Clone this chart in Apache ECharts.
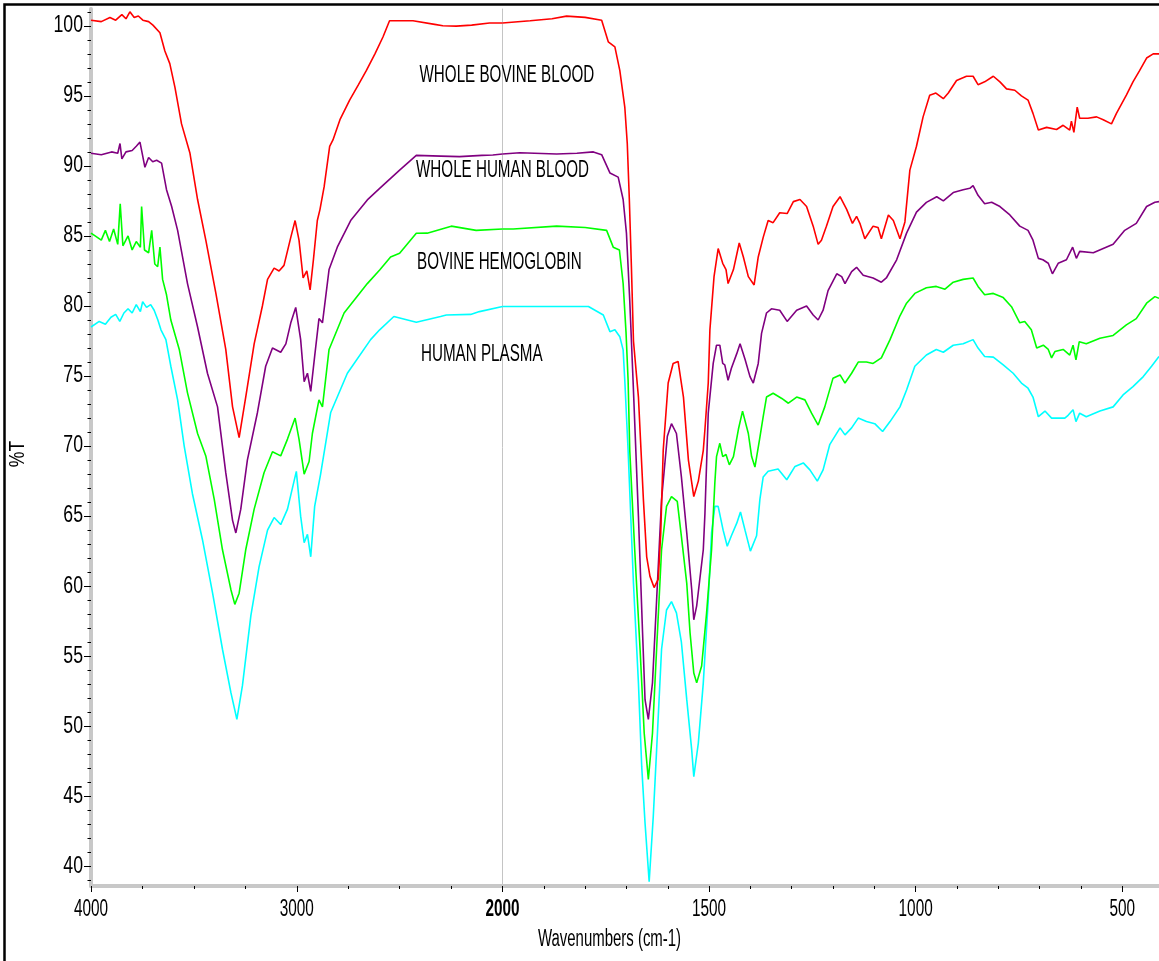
<!DOCTYPE html>
<html>
<head>
<meta charset="utf-8">
<title>FTIR spectra</title>
<script src="https://cdn.jsdelivr.net/npm/echarts@6/dist/echarts.min.js"></script>
<style>
  html, body { margin: 0; padding: 0; background: #fff; }
  #ftir { width: 1159px; height: 961px; }
</style>
</head>
<body>
<div id="ftir"></div>
<script>
// spectra as [wavenumber (cm-1), %T]
var bovineBlood = [
  [4000,100.4],[3950,100.3],[3908,100.6],[3880,100.4],[3850,100.8],[3830,100.5],[3811,101.0],[3790,100.6],
  [3770,100.7],[3748,100.4],[3720,100.3],[3699,100.05],[3665,99.5],[3641,98.2],[3617,97.3],[3592,95.6],
  [3560,93.0],[3519,90.9],[3482,87.6],[3442,84.7],[3393,80.9],[3345,76.9],[3312,72.8],[3280,70.6],
  [3248,73.5],[3207,77.3],[3167,80.0],[3142,81.9],[3110,82.7],[3086,82.5],[3062,82.9],[3029,84.9],
  [3008,86.1],[2989,84.7],[2969,82.0],[2951,82.5],[2935,81.15],[2919,83.3],[2900,86.1],[2887,86.9],
  [2867,88.5],[2840,91.4],[2824,91.85],[2790,93.3],[2743,94.7],[2700,95.8],[2662,96.8],[2620,98.0],
  [2581,99.2],[2549,100.36],[2500,100.36],[2435,100.36],[2330,100.1],[2290,100.0],[2225,99.98],[2150,100.05],
  [2063,100.2],[2000,100.2],
  [1933,100.36],[1880,100.5],[1845,100.69],[1800,100.6],[1760,100.4],[1744,98.86],[1728,98.5],[1716,96.8],
  [1704,94.2],[1698,91.6],[1693,87.6],[1688,82.8],[1683,77.5],[1671,73.5],[1659,66.2],[1651,62.1],
  [1643,60.7],[1633,59.9],[1623,60.5],[1617,63.8],[1611,69.7],[1599,74.5],[1587,75.9],[1575,76.04],
  [1562,73.5],[1550,69.0],[1537,66.4],[1526,67.5],[1514,69.7],[1510,71.2],[1502,74.5],[1498,78.3],
  [1488,82.1],[1478,84.1],[1467,83.05],[1459,82.6],[1454,81.6],[1441,82.6],[1427,84.5],[1417,83.5],
  [1405,82.1],[1391,81.5],[1381,83.5],[1369,84.9],[1357,86.1],[1345,85.95],[1329,86.66],[1311,86.6],
  [1296,87.45],[1280,87.6],[1264,87.1],[1248,85.7],[1236,84.4],[1228,84.7],[1216,85.7],[1200,87.1],
  [1183,87.8],[1167,86.9],[1153,85.9],[1143,86.4],[1135,85.9],[1123,84.8],[1103,85.7],[1091,85.6],
  [1083,84.8],[1066,86.5],[1054,86.1],[1038,84.8],[1026,86.0],[1014,89.7],[998,91.4],[982,93.5],
  [966,95.05],[951,95.2],[933,94.8],[921,95.2],[901,96.1],[877,96.4],[861,96.4],[849,95.8],
  [833,96.0],[812,96.4],[796,96.0],[780,95.5],[760,95.4],[744,95.0],[728,94.7],[716,93.75],
  [703,92.56],[683,92.75],[659,92.6],[643,92.9],[627,92.56],[623,93.2],[617,92.4],[609,94.2],
  [603,93.4],[583,93.4],[562,93.5],[546,93.3],[526,93.0],[514,93.75],[490,95.05],[474,96.0],
  [458,96.8],[441,97.7],[425,98.0],[411,98.0]
];

var humanBlood = [
  [4000,90.9],[3950,90.8],[3900,91.0],[3870,90.9],[3859,91.6],[3850,90.5],[3830,91.0],[3800,91.1],
  [3780,91.4],[3762,91.7],[3750,90.8],[3738,89.9],[3720,90.6],[3700,90.3],[3681,90.4],[3657,90.2],
  [3633,88.3],[3608,87.1],[3579,85.4],[3531,81.6],[3482,78.5],[3434,75.2],[3385,72.8],[3345,68.1],
  [3312,64.7],[3296,63.8],[3272,65.5],[3240,69.0],[3191,72.4],[3151,75.7],[3118,77.0],[3078,76.7],
  [3053,77.3],[3029,78.8],[3005,79.9],[2981,77.6],[2964,74.6],[2948,75.2],[2932,73.9],[2913,76.4],
  [2892,79.1],[2875,78.8],[2843,82.6],[2803,84.2],[2738,86.1],[2657,87.57],[2597,88.4],[2500,89.7],
  [2419,90.75],[2300,90.7],[2209,90.66],[2100,90.75],[2047,90.78],[2000,90.85],
  [1958,90.94],[1869,90.85],[1820,90.9],[1780,91.0],[1760,90.8],[1740,89.5],[1720,89.2],[1708,87.6],
  [1700,85.2],[1692,80.4],[1684,74.7],[1671,65.0],[1661,56.7],[1655,51.9],[1647,50.5],[1637,53.1],
  [1627,59.0],[1615,66.2],[1601,70.7],[1591,71.6],[1579,70.9],[1567,67.8],[1554,63.8],[1542,59.75],
  [1537,57.6],[1530,58.6],[1514,62.6],[1510,65.2],[1502,72.35],[1490,75.9],[1482,77.2],[1474,77.2],
  [1467,75.9],[1462,75.8],[1454,74.7],[1446,75.56],[1433,76.6],[1425,77.3],[1413,76.2],[1401,74.96],
  [1393,74.5],[1381,75.9],[1373,78.05],[1361,79.5],[1349,79.8],[1329,79.7],[1311,78.9],[1288,79.7],
  [1264,80.0],[1248,79.36],[1236,79.0],[1224,79.7],[1212,81.1],[1191,82.3],[1179,82.1],[1171,81.6],
  [1155,82.45],[1143,82.76],[1127,82.2],[1103,82.0],[1083,81.7],[1071,82.0],[1046,83.3],[1022,85.2],
  [998,86.7],[974,87.4],[949,87.8],[933,87.5],[909,88.1],[885,88.3],[869,88.4],[861,88.6],
  [849,87.9],[833,87.3],[816,87.4],[796,87.1],[772,86.5],[748,85.7],[728,85.4],[716,84.7],
  [703,83.4],[692,83.3],[679,83.05],[669,82.3],[655,83.05],[635,83.3],[620,84.2],[611,83.4],
  [603,83.9],[570,83.8],[546,84.1],[522,84.4],[494,85.4],[466,85.9],[441,87.1],[421,87.4],[411,87.45]
];

var bovineHemoglobin = [
  [4000,85.2],[3980,85.0],[3950,84.7],[3930,85.4],[3910,84.6],[3890,85.5],[3870,84.4],[3858,87.3],
  [3845,84.3],[3820,85.0],[3800,84.0],[3780,84.6],[3760,84.2],[3754,87.1],[3740,84.0],[3720,83.8],
  [3705,85.4],[3690,83.0],[3676,82.8],[3665,84.2],[3652,81.9],[3633,80.8],[3612,79.0],[3571,76.9],
  [3531,73.8],[3482,70.9],[3442,69.3],[3401,66.2],[3361,62.6],[3320,59.75],[3301,58.7],[3280,59.5],
  [3248,62.6],[3207,65.5],[3159,68.1],[3118,69.6],[3078,69.3],[3045,70.5],[3008,72.0],[2989,70.5],
  [2964,68.0],[2940,68.9],[2924,70.9],[2892,73.3],[2875,72.8],[2843,76.9],[2770,79.5],[2657,81.6],
  [2597,82.57],[2544,83.5],[2500,83.76],[2419,85.19],[2366,85.2],[2249,85.7],[2128,85.4],[2000,85.5],
  [1974,85.5],[1869,85.7],[1800,85.6],[1748,85.4],[1732,84.2],[1717,84.0],[1708,81.6],[1701,78.1],
  [1696,74.7],[1692,69.7],[1680,62.6],[1667,55.5],[1657,49.5],[1647,46.2],[1637,49.5],[1627,55.5],
  [1615,62.6],[1603,65.7],[1591,66.4],[1577,66.05],[1567,63.56],[1554,60.2],[1546,56.66],[1537,53.8],
  [1530,53.1],[1518,54.3],[1506,58.1],[1494,62.6],[1486,67.4],[1482,69.25],[1474,70.2],[1467,69.25],
  [1459,69.4],[1451,68.66],[1441,69.25],[1429,71.2],[1419,72.5],[1405,70.9],[1397,69.25],[1389,68.5],
  [1378,70.45],[1369,72.1],[1361,73.5],[1345,73.77],[1324,73.4],[1308,73.06],[1288,73.5],[1268,73.3],
  [1252,72.35],[1236,71.5],[1220,72.8],[1200,74.85],[1183,75.08],[1171,74.5],[1155,75.2],[1139,76.0],
  [1119,76.0],[1103,75.9],[1083,76.3],[1062,77.6],[1038,79.3],[1022,80.2],[1002,80.9],[974,81.3],
  [950,81.4],[929,81.2],[909,81.7],[885,81.9],[861,82.0],[849,81.4],[833,80.8],[812,80.9],
  [788,80.6],[768,79.95],[748,78.8],[736,78.9],[720,78.3],[707,77.0],[691,77.2],[679,76.9],
  [671,76.3],[663,76.75],[643,76.9],[627,76.5],[619,77.2],[612,76.15],[604,77.45],[587,77.3],
  [554,77.7],[522,77.9],[490,78.65],[466,79.1],[441,80.2],[421,80.67],[411,80.55]
];

var humanPlasma = [
  [4000,78.5],[3960,78.9],[3930,78.7],[3903,79.2],[3880,79.4],[3860,78.9],[3840,79.5],[3820,79.8],
  [3800,79.5],[3780,80.1],[3760,79.6],[3749,80.3],[3730,79.9],[3710,80.1],[3693,79.7],[3675,79.0],
  [3660,78.3],[3636,77.6],[3612,75.7],[3579,73.3],[3547,70.0],[3507,66.6],[3458,63.3],[3409,59.5],
  [3361,55.5],[3320,52.4],[3291,50.5],[3264,52.9],[3223,57.9],[3183,61.4],[3142,64.0],[3110,64.9],
  [3078,64.4],[3045,65.5],[3002,68.2],[2981,65.0],[2964,63.1],[2948,63.7],[2932,62.1],[2913,65.7],
  [2884,68.0],[2835,72.4],[2754,75.2],[2641,77.6],[2597,78.3],[2528,79.25],[2419,78.84],[2301,79.25],
  [2273,79.36],[2155,79.4],[2112,79.6],[2000,79.96],
  [1877,79.96],[1792,79.96],[1756,79.36],[1740,78.17],[1728,78.3],[1716,77.8],[1708,76.87],[1704,74.7],
  [1696,69.7],[1683,60.2],[1671,53.1],[1663,47.1],[1655,43.1],[1645,38.9],[1635,43.6],[1627,48.3],
  [1615,55.5],[1603,58.3],[1591,58.9],[1579,58.1],[1567,56.0],[1554,51.9],[1542,48.3],[1537,46.4],
  [1526,48.8],[1514,53.1],[1502,59.0],[1494,63.8],[1486,65.7],[1478,65.7],[1466,64.0],[1456,62.85],
  [1446,63.6],[1433,64.5],[1424,65.3],[1413,64.0],[1400,62.5],[1385,63.6],[1377,66.2],[1369,67.8],
  [1357,68.2],[1333,68.36],[1312,67.6],[1292,68.55],[1272,68.8],[1256,68.3],[1238,67.5],[1224,68.3],
  [1208,70.1],[1183,71.3],[1171,70.8],[1155,71.3],[1139,72.0],[1119,71.75],[1099,71.6],[1080,71.04],
  [1062,71.75],[1038,72.8],[1022,74.0],[1002,75.7],[974,76.5],[950,76.9],[933,76.7],[909,77.2],
  [885,77.3],[861,77.6],[849,77.0],[833,76.4],[812,76.35],[788,75.8],[764,75.2],[744,74.5],
  [728,74.13],[716,73.5],[703,72.1],[687,72.5],[671,72.0],[659,72.0],[639,72.0],[631,72.2],
  [619,72.6],[612,71.75],[603,72.35],[587,72.1],[554,72.5],[522,72.8],[498,73.65],[474,74.25],
  [449,74.96],[429,75.7],[411,76.4]
];

var seriesNames = ['WHOLE BOVINE BLOOD', 'WHOLE HUMAN BLOOD', 'BOVINE HEMOGLOBIN', 'HUMAN PLASMA'];
var seriesColors = ['#ff0000', '#800080', '#00ff00', '#00ffff'];

// axis ticks (x axis is split at 2000: the part below 2000 is drawn at twice the scale)
var xTicksHigh = [4000, 3000, 2000];
var xMinorHigh = [3750, 3500, 3250, 2750, 2500, 2250];
var xTicksLow = [1500, 1000, 500];
var xMinorLow = [1900, 1800, 1700, 1600, 1400, 1300, 1200, 1100, 900, 800, 700, 600];
var yTicks = [40, 45, 50, 55, 60, 65, 70, 75, 80, 85, 90, 95, 100];
var yMinor = [39, 41, 42, 43, 44, 46, 47, 48, 49, 51, 52, 53, 54, 56, 57, 58, 59, 61, 62, 63, 64,
  66, 67, 68, 69, 71, 72, 73, 74, 76, 77, 78, 79, 81, 82, 83, 84, 86, 87, 88, 89, 91, 92, 93, 94,
  96, 97, 98, 99, 101];

var FONT = "'Liberation Sans', Arial, sans-serif";
var AXIS_GRAY = '#c8c8c8';
var Y_MIN = 38.6, Y_MAX = 101.2;

var chart = echarts.init(document.getElementById('ftir'));

function half(data, high) {
  return data.filter(function (p) { return high ? p[0] >= 2000 : p[0] <= 2000; });
}

var series = [];
[bovineBlood, humanBlood, bovineHemoglobin, humanPlasma].forEach(function (d, i) {
  [true, false].forEach(function (high) {
    series.push({
      name: seriesNames[i],
      type: 'line',
      xAxisIndex: high ? 0 : 2,
      yAxisIndex: high ? 0 : 2,
      data: half(d, high),
      showSymbol: false,
      symbol: 'none',
      lineStyle: { color: seriesColors[i], width: 1.6 },
      itemStyle: { color: seriesColors[i] },
      z: 10 - i,
      silent: true
    });
  });
});

function xAxisDef(grid, min, max, ticks, len, showLine) {
  return {
    gridIndex: grid, type: 'value', min: min, max: max, inverse: true, position: 'bottom', offset: 0,
    axisLine: { show: showLine, onZero: false, lineStyle: { color: AXIS_GRAY, width: 4 } },
    axisTick: { show: true, customValues: ticks, length: len, lineStyle: { color: '#000', width: 1 } },
    axisLabel: { show: false },
    splitLine: { show: false }
  };
}

function yAxisDef(grid, ticks, len, line) {
  return {
    gridIndex: grid, type: 'value', min: Y_MIN, max: Y_MAX, position: 'left', offset: 0,
    axisLine: line ? { show: true, onZero: false, lineStyle: line } : { show: false },
    axisTick: ticks ? { show: true, customValues: ticks, length: len, lineStyle: { color: '#000', width: 1 } } : { show: false },
    axisLabel: { show: false },
    splitLine: { show: false }
  };
}

var option = {
  animation: false,
  backgroundColor: '#fff',
  grid: [
    { left: 91, top: 9, width: 411.5, height: 877 },
    { left: 502.5, top: 9, width: 656.5, height: 877 }
  ],
  xAxis: [
    xAxisDef(0, 2000, 4000, xTicksHigh, 6, true),
    xAxisDef(0, 2000, 4000, xMinorHigh, 3, false),
    xAxisDef(1, 411, 2000, xTicksLow, 6, true),
    xAxisDef(1, 411, 2000, xMinorLow, 3, false)
  ],
  yAxis: [
    yAxisDef(0, yTicks, 7, { color: AXIS_GRAY, width: 4 }),
    yAxisDef(0, yMinor, 3.5, null),
    yAxisDef(1, null, 0, { color: '#c4c4c4', width: 1 })
  ],
  series: series
};

chart.setOption(option);

// text drawn condensed, like the original plot
function label(text, x, y, align, size, sx, extra) {
  extra = extra || {};
  return {
    type: 'text', x: x, y: y, scaleX: sx, rotation: extra.rotation || 0, silent: true, z: 50,
    style: {
      text: text, fill: '#000', fontSize: size, fontFamily: FONT,
      fontWeight: extra.bold ? 'bold' : 'normal',
      align: align, textAlign: align, verticalAlign: 'middle', textVerticalAlign: 'middle'
    }
  };
}

var graphics = [
  { type: 'polyline', silent: true, z: 60,
    shape: { points: [[4.5, 961], [4.5, 4.5], [1159, 4.5]] },
    style: { stroke: '#000', lineWidth: 2.5, fill: null } }
];

xTicksHigh.forEach(function (v) {
  var px = chart.convertToPixel({ xAxisIndex: 0 }, v);
  graphics.push(label(String(v), px, 909, 'center', 24, 0.64, { bold: v === 2000 }));
});
xTicksLow.forEach(function (v) {
  var px = chart.convertToPixel({ xAxisIndex: 2 }, v);
  graphics.push(label(String(v), px, 909, 'center', 24, 0.64));
});
yTicks.forEach(function (v) {
  var py = chart.convertToPixel({ yAxisIndex: 0 }, v);
  graphics.push(label(String(v), 83, py, 'right', 23, 0.77));
});

graphics.push(label('Wavenumbers (cm-1)', 609.5, 940, 'center', 23, 0.65));
graphics.push(label('%T', 18, 454, 'center', 22, 0.8, { rotation: Math.PI / 2 }));

var textRows = [
  [seriesNames[0], 419.5, 75.5],
  [seriesNames[1], 416, 170.5],
  [seriesNames[2], 417, 262],
  [seriesNames[3], 421, 354.5]
];
textRows.forEach(function (r) {
  graphics.push(label(r[0], r[1], r[2], 'left', 24, 0.633));
});

chart.setOption({ graphic: graphics });
</script>
</body>
</html>
